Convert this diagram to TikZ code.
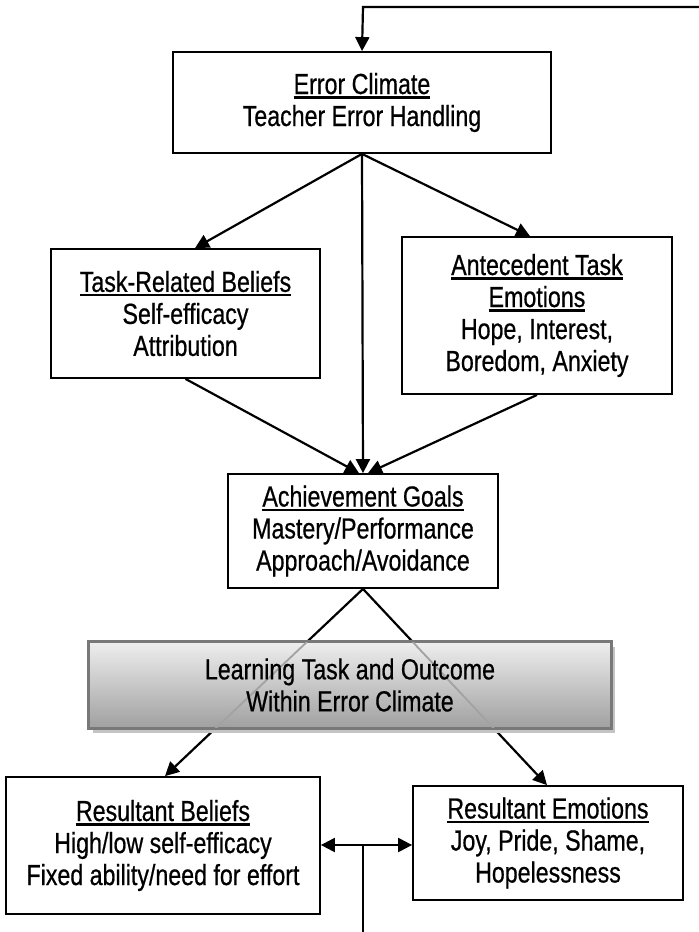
\documentclass[tikz,border=0pt]{standalone}
\usepackage{fontspec}
\setmainfont[FakeStretch=0.80, FakeBold=0.6]{Liberation Sans}
\usetikzlibrary{arrows.meta}
\newcommand\fsz{\fontsize{29}{32}\selectfont}
\newcommand\ulx[1]{\setbox0=\hbox{#1}\rlap{\rule[-4.5pt]{\wd0}{2.2pt}}\box0}
\definecolor{gtop}{HTML}{EEEEEE}
\definecolor{gbot}{HTML}{A0A0A0}
\definecolor{gedge}{HTML}{787878}
\definecolor{gshadow}{HTML}{C4C4C4}
\definecolor{gline}{HTML}{A2A2A2}
\tikzset{
  box/.style={draw, line width=1.8pt, fill=white, inner sep=0pt, align=center, font=\fsz},
  arr/.style={-{Triangle[length=14pt,width=14pt]}, line width=2.2pt},
  dblarr/.style={{Triangle[length=14pt,width=14pt]}-{Triangle[length=14pt,width=14pt]}, line width=2.2pt},
  plain/.style={line width=2.2pt},
  graybox/.style={draw=gedge, line width=1.8pt, top color=gtop, bottom color=gbot, inner sep=0pt, align=center, font=\fsz}
}
\begin{document}
\begin{tikzpicture}[x=1pt, y=-1pt]
\useasboundingbox (0,0) rectangle (699,932);
\fill[white] (0,0) rectangle (699,932);

\node[box, minimum width=378pt, minimum height=101pt] (ec) at (362,102.5)
  {\ulx{Error Climate}\\Teacher Error Handling};
\node[box, minimum width=269pt, minimum height=129pt] (trb) at (185.5,313.5)
  {\ulx{Task-Related Beliefs}\\Self-efficacy\\Attribution};
\node[box, minimum width=270pt, minimum height=157pt] (ate) at (537,315.5)
  {\ulx{Antecedent Task}\\\ulx{Emotions}\\Hope, Interest,\\Boredom, Anxiety};
\node[box, minimum width=270pt, minimum height=114pt] (ag) at (363,531)
  {\ulx{Achievement Goals}\\Mastery/Performance\\Approach/Avoidance};
\node[box, minimum width=314pt, minimum height=137pt] (rb) at (163,845.5)
  {\ulx{Resultant Beliefs}\\High/low self-efficacy\\Fixed ability/need for effort};
\node[box, minimum width=270pt, minimum height=114pt] (re) at (548,843)
  {\ulx{Resultant Emotions}\\Joy, Pride, Shame,\\Hopelessness};

% arrows from Error Climate
\draw[arr] (ec.south) -- ([xshift=9.5pt]trb.north);
\draw[arr] (ec.south) -- ([xshift=-7pt]ate.north);
\draw[arr] (ec.south) -- (ag.north);
\draw[arr] (trb.south) -- ([xshift=-4pt]ag.north);
\draw[arr] (ate.south) -- ([xshift=5pt]ag.north);

% arrows from Achievement Goals (behind gray box)
\draw[arr] (ag.south) -- ([xshift=2pt]rb.north);
\draw[arr] (ag.south) -- ([xshift=-1pt]re.north);

% gray box with shadow
\fill[gshadow] (93,647) rectangle (615,733);
\node[graybox, minimum width=522pt, minimum height=86pt] (lt) at (350,685) {};
\begin{scope}
  \clip (89,642) rectangle (611,728);
  \draw[line width=1.8pt, gline] (ag.south) -- ([xshift=2pt]rb.north);
  \draw[line width=1.8pt, gline] (ag.south) -- ([xshift=-1pt]re.north);
\end{scope}
\draw[draw=gedge, line width=1.8pt] (lt.south west) rectangle (lt.north east);
\node[align=center, font=\fsz, inner sep=0pt] (ltt) at (lt.center)
  {Learning Task and Outcome\\Within Error Climate};

% bottom double arrow and feedback line
\coordinate (j) at (363,845);
\coordinate (fbbot) at (363,932);
\coordinate (fbright) at (699,7);
\coordinate (fbcorner) at (363,7);
\draw[dblarr] (rb.east |- j) -- (re.west |- j);
\draw[plain] (j) -- (fbbot);
\draw[arr] (fbright) -- (fbcorner) -- (ec.north);
\end{tikzpicture}
\end{document}
